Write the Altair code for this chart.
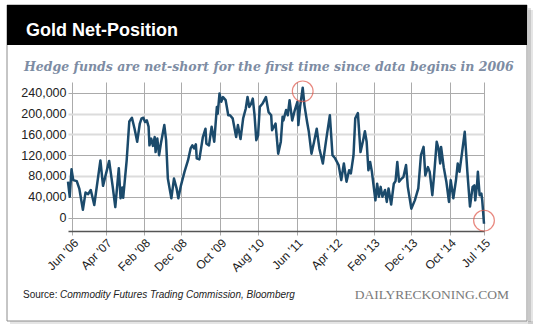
import json
import altair as alt
import pandas as pd

# ---- data (week index since mid-June 2006, net contracts) ----
weeks = [0, 2, 4, 6, 10, 13, 17, 20, 23, 26, 30, 37, 40, 47, 51, 54, 58, 60, 62, 63,
         67, 70, 73, 76, 79, 82, 84, 86, 88, 90, 92, 93, 95, 97, 99, 100, 102, 104, 106, 110,
         112, 114, 118, 121, 124, 126, 129, 133, 137, 140, 142, 144, 146, 147, 150, 154, 157, 158, 161, 164,
         167, 170, 171, 173, 175, 177, 180, 183, 185, 188, 192, 194, 197, 200, 203, 205, 207, 209, 211, 213,
         215, 217, 219, 222, 226, 229, 232, 233, 237, 240, 243, 245, 246, 249, 251, 253, 256, 259, 262, 263,
         265, 268, 270, 273, 275, 278, 281, 284, 287, 291, 295, 299, 302, 305, 309, 312, 315, 318, 321, 323,
         326, 328, 331, 334, 337, 339, 341, 343, 345, 347, 351, 353, 355, 357, 359, 362, 364, 366, 369, 372,
         374, 376, 378, 381, 383, 386, 388, 392, 396, 400, 403, 406, 408, 411, 413, 416, 418, 421, 423, 425,
         426, 429, 432, 435, 437, 440, 443, 445, 447, 450, 453, 456, 459, 462, 464, 465, 467, 468, 470, 472,
         473, 475]
net_position = [69, 40, 93, 72, 70, 55, 15, 48, 45, 53, 24, 110, 61, 109, 60, 20, 95, 37, 58, 38,
                110, 185, 192, 171, 146, 181, 191, 192, 184, 187, 175, 139, 152, 138, 155, 126, 152, 120, 142, 178,
                149, 75, 37, 75, 56, 37, 62, 88, 110, 133, 139, 133, 141, 114, 112, 155, 171, 142, 139, 175,
                146, 213, 200, 239, 223, 232, 226, 197, 197, 191, 155, 178, 151, 191, 210, 232, 213, 219, 229, 197,
                149, 158, 213, 219, 232, 203, 197, 168, 181, 123, 146, 194, 187, 207, 197, 226, 187, 207, 223, 178,
                213, 250, 216, 184, 165, 123, 146, 171, 133, 104, 152, 197, 120, 114, 101, 72, 104, 69, 91, 85,
                120, 191, 201, 126, 149, 166, 146, 91, 107, 88, 33, 65, 40, 59, 40, 53, 30, 56, 25, 65,
                70, 107, 69, 75, 78, 101, 59, 17, 33, 56, 120, 136, 81, 97, 88, 43, 81, 146, 133, 104,
                136, 97, 69, 30, 72, 37, 72, 104, 88, 126, 165, 88, 21, 59, 62, 33, 62, 88, 43, 46,
                33, -12]
net_position = [v * 1000 for v in net_position]

tick_weeks = [5, 43, 87, 129, 174, 217, 261, 306, 349, 392, 436, 475]
tick_labels = ["Jun '06", "Apr '07", "Feb '08", "Dec '08", "Oct '09", "Aug '10",
               "Jun '11", "Apr '12", "Feb '13", "Dec '13", "Oct '14", "Jul '15"]
y_ticks = [0, 40000, 80000, 120000, 160000, 200000, 240000]
light_grid = [80000, 160000, 200000]

highlight_weeks = [268, 475]
highlight_values = [243000, -6000]

title_text = "Gold Net-Position"
subtitle_text = "Hedge funds are net-short for the first time since data begins in 2006"
source_label = "Source:"
source_text = "Commodity Futures Trading Commission, Bloomberg"
brand_text = "DAILYRECKONING.COM"

# ---- chart ----
df = pd.DataFrame({"week": weeks, "net": net_position})
hl = pd.DataFrame({"week": highlight_weeks, "net": highlight_values})
one = pd.DataFrame({"a": [0]})

PW, PH = 416, 149
label_expr = f"{json.dumps(tick_labels)}[indexof({json.dumps(tick_weeks)}, datum.value)]"
light_test = " || ".join(f"datum.value == {v}" for v in light_grid)

x_scale = alt.Scale(domain=[0, 475], nice=False, zero=False)
y_scale = alt.Scale(domain=[-26000, 261000], nice=False, zero=False)

x_axis = alt.Axis(values=tick_weeks, labelExpr=label_expr, labelAngle=-45,
                  labelOverlap=False, labelBound=False, labelFlush=False,
                  grid=True, gridColor="#ababab", gridWidth=1,
                  domainColor="#555555", domainWidth=1.5,
                  tickColor="#ababab", tickSize=4,
                  labelFont="Liberation Sans", labelFontSize=12, labelColor="#222222",
                  labelPadding=2, title=None)
y_axis = alt.Axis(values=y_ticks, format=",.0f", domain=False, ticks=False,
                  labelOverlap=False, labelBound=False, labelFlush=False,
                  grid=True,
                  gridColor={"condition": {"test": light_test, "value": "#dcdcdc"}, "value": "#ababab"},
                  gridWidth={"condition": {"test": light_test, "value": 2}, "value": 1},
                  labelFont="Liberation Sans", labelFontSize=12.5, labelColor="#222222",
                  labelPadding=2, title=None)

X = alt.X("week:Q", scale=x_scale, axis=x_axis)
Y = alt.Y("net:Q", scale=y_scale, axis=y_axis)

line = alt.Chart(df).mark_line(color="#1b4a6b", strokeWidth=2.5, strokeJoin="round").encode(
    x=X, y=Y)

circles = alt.Chart(hl).mark_point(shape="circle", size=430, filled=False,
                                    color="#e0574a", strokeWidth=1.2).encode(
    x=X, y=Y)

# decoration (card, header bar, shadow) positioned relative to the plot origin
def rect(x0, x1, y0, y1, **kw):
    return alt.Chart(one).mark_rect(**kw).encode(
        x=alt.value(x0), x2=alt.value(x1), y=alt.value(y0), y2=alt.value(y1))

shadow = alt.layer(
    rect(460, 465, -72, 242, fill="#000000", opacity=0.10),
    rect(460, 463, -74, 240, fill="#000000", opacity=0.12),
    rect(-58, 465, 239, 242, fill="#000000", opacity=0.10),
)
card = rect(-61, 459, -77, 239, fillOpacity=0, stroke="#8c8c8c", strokeWidth=1)
header = rect(-61, 459, -77, -37, fill="#000000")

def text(s, x, y, **kw):
    return alt.Chart(one).mark_text(text=s, align=kw.pop("align", "left"),
                                    baseline="alphabetic", **kw).encode(
        x=alt.value(x), y=alt.value(y))

title = text(title_text, -42, -46, font="Liberation Sans", fontSize=18,
             fontWeight="bold", color="#ffffff")
subtitle = text(subtitle_text, -44, -11, font="DejaVu Serif", fontSize=12.5,
                fontWeight="bold", fontStyle="italic", color="#7d8ca3")
src1 = text(source_label, -45, 216, font="Liberation Sans", fontSize=10, color="#222222")
src2 = text(source_text, -8, 216, font="Liberation Sans", fontSize=10,
            fontStyle="italic", color="#222222")
brand = text(brand_text, 441, 217, font="Liberation Serif", fontSize=13.5,
             color="#7a7a7a", align="right")

chart = alt.layer(
    shadow, card, header, line, circles, title, subtitle, src1, src2, brand
).properties(
    width=PW, height=PH,
    autosize=alt.AutoSizeParams(type="none"),
    padding={"left": 68, "top": 82, "right": 539 - 68 - PW, "bottom": 324 - 82 - PH},
    background="#ffffff",
).configure_view(stroke=None).configure_axis(labelOverlap=False)

chart.save("out.html", embed_options={"renderer": "svg", "actions": False})
